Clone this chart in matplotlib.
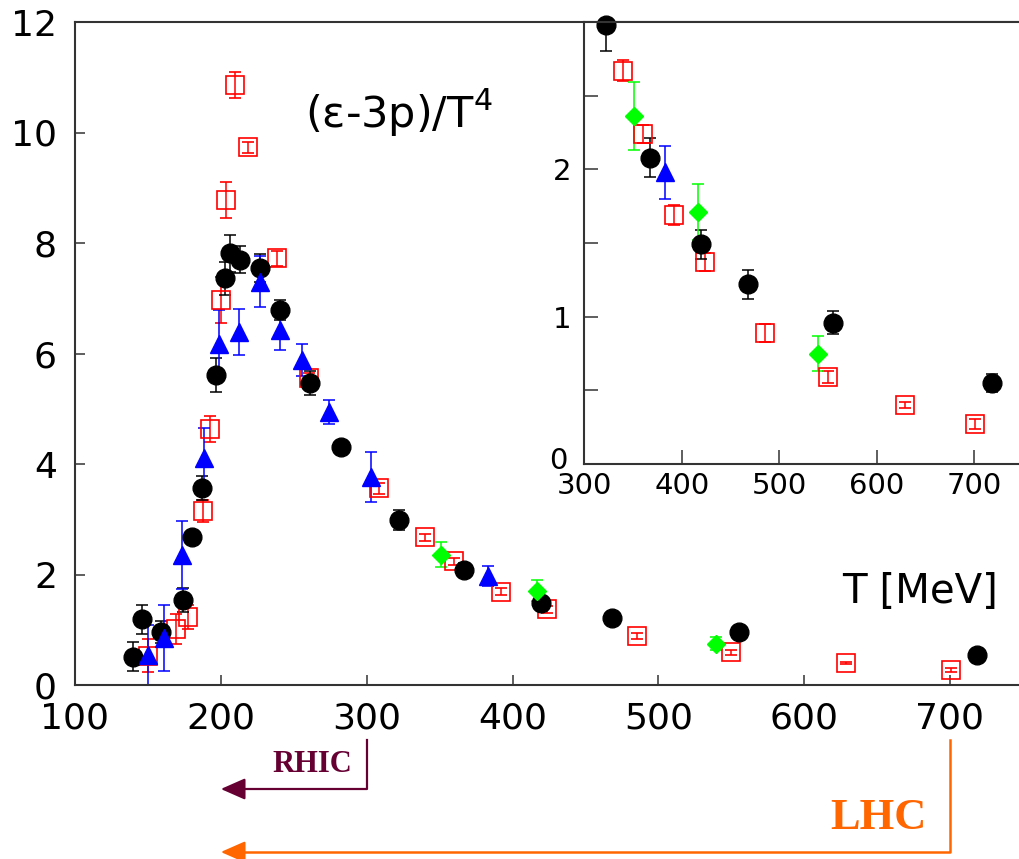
import matplotlib.pyplot as plt
import matplotlib.transforms as mtransforms
import numpy as np

plt.rcParams['font.family'] = 'DejaVu Sans'

# lattice data: (e-3p)/T^4 vs T [MeV]
T_black = [140, 145.7, 159, 174.3, 180, 186.9, 196.7, 202.9, 206.3, 213.2, 227, 240.6,
           261.2, 282.4, 322, 367, 419.7, 468, 555, 718.6]
v_black = [0.51, 1.19, 0.96, 1.54, 2.67, 3.56, 5.61, 7.36, 7.81, 7.70, 7.55, 6.79,
           5.46, 4.31, 2.98, 2.08, 1.49, 1.22, 0.96, 0.55]
e_black = [0.26, 0.26, 0.2, 0.22, 0.12, 0.22, 0.3, 0.3, 0.33, 0.25, 0.25, 0.18,
           0.22, 0.1, 0.18, 0.13, 0.1, 0.1, 0.08, 0.06]

T_red = [150.3, 169.3, 177.7, 188, 192.6, 199.9, 203.4, 209.7, 218.4, 238.2, 260.5, 308.7,
         339.7, 360, 391.8, 423.5, 485.5, 549.6, 628.6, 700.4]
v_red = [0.53, 1.02, 1.23, 3.15, 4.63, 6.97, 8.78, 10.86, 9.73, 7.72, 5.55, 3.56,
         2.67, 2.24, 1.69, 1.37, 0.89, 0.59, 0.40, 0.27]
e_red = [0.3, 0.27, 0.22, 0.2, 0.23, 0.42, 0.33, 0.23, 0.1, 0.13, 0.1, 0.1,
         0.07, 0.06, 0.07, 0.06, 0.06, 0.04, 0.02, 0.035]

T_blue = [150.3, 161, 173.6, 188.5, 199, 212.5, 226.9, 240.6, 255.7, 274, 302.8, 383]
v_blue = [0.54, 0.85, 2.35, 4.10, 6.18, 6.39, 7.30, 6.43, 5.88, 4.94, 3.77, 1.98]
e_blue = [0.55, 0.6, 0.62, 0.55, 0.6, 0.42, 0.46, 0.37, 0.29, 0.22, 0.45, 0.18]

T_green = [351, 416.8, 539.3]
v_green = [2.36, 1.71, 0.75]
e_green = [0.23, 0.19, 0.12]

main_xticks = [100, 200, 300, 400, 500, 600, 700]
main_yticks = [0, 2, 4, 6, 8, 10, 12]
inset_xticks = [300, 400, 500, 600, 700]
inset_yticks = [0, 1, 2]
inset_yminor = [0.5, 1.5, 2.5]


def draw(a, tmin=None):
    series = [
        (T_red, v_red, e_red, dict(fmt='s', ms=13, mfc='none', mec='#ff0000', mew=1.2, ecolor='#ff0000')),
        (T_black, v_black, e_black, dict(fmt='o', ms=13.5, mfc='black', mec='black', ecolor='black')),
        (T_blue, v_blue, e_blue, dict(fmt='^', ms=13, mfc='#0000ff', mec='#0000ff', ecolor='#0000ff')),
        (T_green, v_green, e_green, dict(fmt='D', ms=9.5, mfc='#00ff00', mec='#00ff00', ecolor='#00ff00')),
    ]
    for T, v, e, kw in series:
        T, v, e = np.array(T), np.array(v), np.array(e)
        if tmin is not None:
            m = T >= tmin
            T, v, e = T[m], v[m], e[m]
        cont = a.errorbar(T, v, yerr=e, elinewidth=1.1, capsize=4, capthick=1.1, **kw)
        if tmin is not None:
            # let markers stick out over the top frame, as in the original
            cont[0].set_clip_on(False)


fig = plt.figure(figsize=(10.2, 8.59), dpi=100)
W, H = 1020, 859

ax = fig.add_axes([75 / W, 1 - 685 / H, 945 / W, 663 / H])
draw(ax)
ax.set_xlim(100, 748)
ax.set_ylim(0, 12)
ax.set_xticks(main_xticks)
ax.set_yticks(main_yticks)
ax.tick_params(direction='in', length=7, width=1.1, labelsize=26, color='#333333')
ax.tick_params(axis='y', pad=13)
ax.tick_params(axis='x', pad=12)
ax.spines['right'].set_visible(False)
for s in ['left', 'bottom', 'top']:
    ax.spines[s].set_linewidth(1.5)
    ax.spines[s].set_color('#333333')

ax.text(0.2434, 0.863, '(ε-3p)/T$^4$', transform=ax.transAxes, fontsize=31,
        ha='left', va='center')
ax.text(0.977, 0.14, 'T [MeV]', transform=ax.transAxes, fontsize=29,
        ha='right', va='center')

# inset
ins = fig.add_axes([584.3 / W, 1 - 464 / H, (W - 584.3) / W, (464 - 22) / H])
ins.set_facecolor('white')
draw(ins, tmin=300)
ins.set_xlim(300, 747)
ins.set_ylim(0, 3)
ins.set_xticks(inset_xticks)
ins.set_yticks(inset_yticks)
ins.set_yticks(inset_yminor, minor=True)
ins.tick_params(which='both', direction='in', length=10, width=1.1, labelsize=21, color='#333333')
ins.tick_params(axis='y', pad=9)
ins.tick_params(axis='x', pad=6)
ins.spines['right'].set_visible(False)
for s in ['left', 'bottom', 'top']:
    ins.spines[s].set_linewidth(1.5)
    ins.spines[s].set_color('#333333')
# nudge the inset "0" so it does not run into "300"
lab0 = ins.yaxis.get_major_ticks()[0].label1
lab0.set_transform(lab0.get_transform() +
                   mtransforms.ScaledTranslation(-3 / 72, 4 / 72, fig.dpi_scale_trans))

# RHIC / LHC ranges below the axis
trans = mtransforms.blended_transform_factory(ax.transData, fig.transFigure)
def fy(py):
    return 1 - py / H

rhic_c = '#660033'
lhc_c = '#ff6600'
ax.plot([300, 300, 212], [fy(740), fy(789), fy(789)], color=rhic_c, lw=1.6,
        transform=trans, clip_on=False)
ax.annotate('', xy=(200, fy(789)), xycoords=trans, xytext=(215, fy(789)), textcoords=trans,
            arrowprops=dict(arrowstyle='-|>,head_length=0.75,head_width=0.33',
                            mutation_scale=20, color=rhic_c, lw=1.6, shrinkA=0, shrinkB=0))
ax.text(263, fy(765), 'RHIC', transform=trans, ha='center', va='center',
        fontsize=22, fontweight='bold', family='Liberation Serif', color=rhic_c)

ax.plot([700, 700, 212], [fy(740), fy(852), fy(852)], color=lhc_c, lw=1.8,
        transform=trans, clip_on=False)
ax.annotate('', xy=(200, fy(852)), xycoords=trans, xytext=(215, fy(852)), textcoords=trans,
            arrowprops=dict(arrowstyle='-|>,head_length=0.75,head_width=0.33',
                            mutation_scale=20, color=lhc_c, lw=1.6, shrinkA=0, shrinkB=0))
ax.text(651, fy(818), 'LHC', transform=trans, ha='center', va='center',
        fontsize=32, fontweight='bold', family='Liberation Serif', color=lhc_c)

fig.savefig('out.png', dpi=100)
